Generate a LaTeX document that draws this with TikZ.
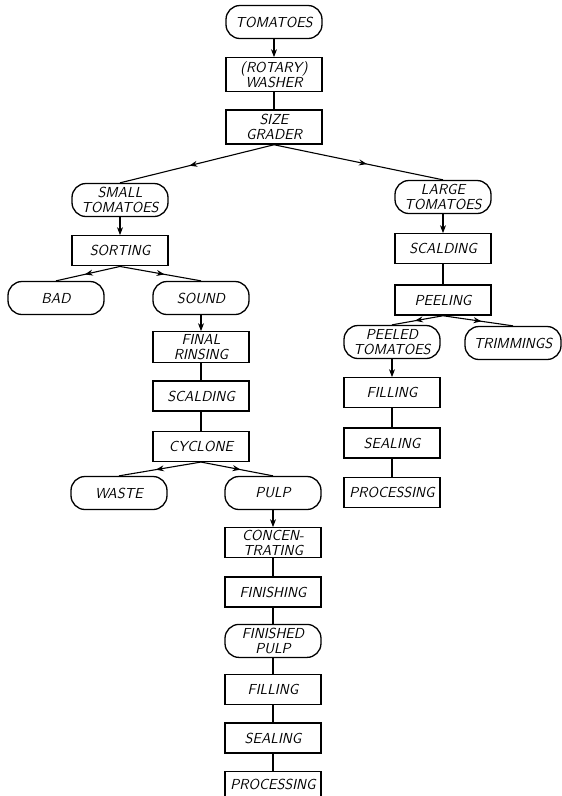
\documentclass[tikz,border=0pt]{standalone}
\usetikzlibrary{arrows.meta, positioning, decorations.markings}

\begin{document}
\begin{tikzpicture}[
		x=1pt, y=-1pt,
		node distance=18pt and 20pt,
		every node/.style={font=\sffamily\itshape\fontsize{14.5}{15}\selectfont, align=center, inner sep=1pt},
		unit/.style={draw, rectangle, line width=1.3pt, minimum width=96pt, minimum height=30pt},
		stream/.style={draw, rectangle, rounded corners=14pt, line width=1.3pt, minimum width=96pt, minimum height=33pt},
		feed/.style={-{Stealth[length=8pt,width=6pt]}},
		split/.style={postaction={decorate}, decoration={markings, mark=at position 0.55 with {\arrow{Stealth[length=8pt,width=6pt]}}}},
		line width=1.1pt
		]
		\useasboundingbox (0,0) rectangle (562,796);
		% Raw tomatoes, washing and grading
		\node[stream] (tomatoes) at (274,22) {TOMATOES};
		\node[unit, minimum height=34pt, below = of tomatoes] (washer) {(ROTARY)\\WASHER};
		\node[unit, minimum height=34pt, below = 17pt of washer] (grader) {SIZE\\GRADER};
		
		% Small tomatoes: pulp line
		\node[stream] (small) at (120,200) {SMALL\\TOMATOES};
		\node[unit, below = of small] (sorting) {SORTING};
		\node[stream] (bad) at (56,298) {BAD};
		\node[stream] (sound) at (201,298) {SOUND};
		\node[unit, minimum height=31pt, below = 16pt of sound] (rinsing) {FINAL\\RINSING};
		\node[unit, below = 17pt of rinsing] (scaldsmall) {SCALDING};
		\node[unit, below = 19pt of scaldsmall] (cyclone) {CYCLONE};
		\node[stream] (waste) at (119,493) {WASTE};
		\node[stream] (pulp) at (273,493) {PULP};
		\node[unit, below = 17pt of pulp] (concentrating) {CONCEN-\\TRATING};
		\node[unit, below = 18pt of concentrating] (finishing) {FINISHING};
		\node[stream, below = 16pt of finishing] (finishedpulp) {FINISHED\\PULP};
		\node[unit, below = 16pt of finishedpulp] (fillsmall) {FILLING};
		\node[unit, below = 17pt of fillsmall] (sealsmall) {SEALING};
		\node[unit, minimum height=27pt, below = 17pt of sealsmall] (procsmall) {PROCESSING};
		
		% Large tomatoes: whole peeled line
		\node[stream] (large) at (443,197) {LARGE\\TOMATOES};
		\node[unit, below = 19pt of large] (scaldlarge) {SCALDING};
		\node[unit, below = 20pt of scaldlarge] (peeling) {PEELING};
		\node[stream] (peeled) at (392,342) {PEELED\\TOMATOES};
		\node[stream] (trimmings) at (513,343) {TRIMMINGS};
		\node[unit, below = 18pt of peeled] (filllarge) {FILLING};
		\node[unit, below = 19pt of filllarge] (seallarge) {SEALING};
		\node[unit, below = 18pt of seallarge] (proclarge) {PROCESSING};
		
		% Flow lines
		\draw[feed] (tomatoes) -- (washer);
		\draw (washer) -- (grader);
		\draw[split] (grader.south) -- (small.north);
		\draw[split] (grader.south) -- (large.north);
		
		\draw[feed] (small) -- (sorting);
		\draw[split] (sorting.south) -- (bad.north);
		\draw[split] (sorting.south) -- (sound.north);
		\draw[feed] (sound) -- (rinsing);
		\draw (rinsing) -- (scaldsmall);
		\draw (scaldsmall) -- (cyclone);
		\draw[split] (cyclone.south) -- (waste.north);
		\draw[split] (cyclone.south) -- (pulp.north);
		\draw[feed] (pulp) -- (concentrating);
		\draw (concentrating) -- (finishing);
		\draw (finishing) -- (finishedpulp);
		\draw (finishedpulp) -- (fillsmall);
		\draw (fillsmall) -- (sealsmall);
		\draw (sealsmall) -- (procsmall);
		
		\draw[feed] (large) -- (scaldlarge);
		\draw (scaldlarge) -- (peeling);
		\draw[split] (peeling.south) -- (peeled.north);
		\draw[split] (peeling.south) -- (trimmings.north);
		\draw[feed] (peeled) -- (filllarge);
		\draw (filllarge) -- (seallarge);
		\draw (seallarge) -- (proclarge);
	\end{tikzpicture}
\end{document}
